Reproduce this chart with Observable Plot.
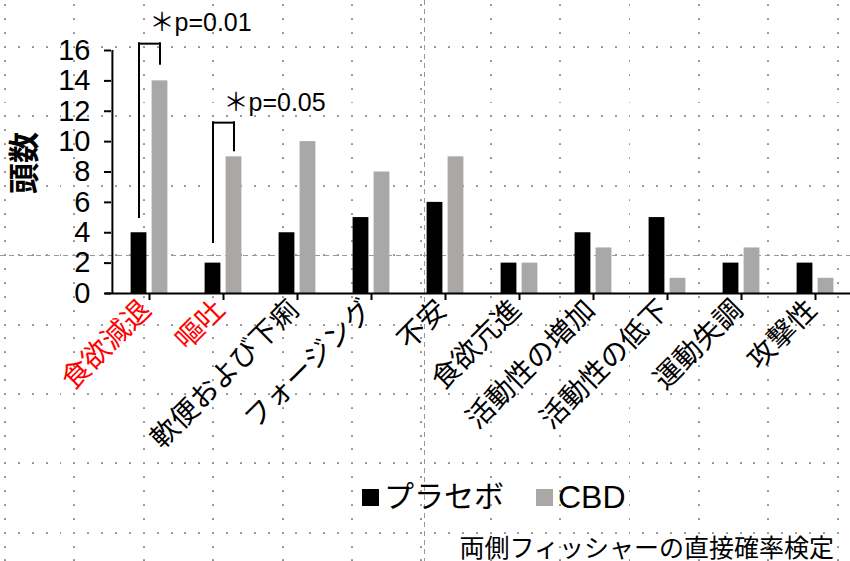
<!DOCTYPE html>
<html><head><meta charset="utf-8">
<script src="https://cdn.jsdelivr.net/npm/d3@7"></script>
<script src="https://cdn.jsdelivr.net/npm/@observablehq/plot@0.6"></script>
<style>
html,body{margin:0;padding:0;}
body{width:850px;height:561px;position:relative;overflow:hidden;background-color:#fff;
  font-family:"Liberation Sans","Noto Sans CJK JP",sans-serif;color:#000;}
#chart{position:absolute;left:0;top:0;}
.hguide{position:absolute;left:0;top:255px;width:850px;height:1px;
  background:repeating-linear-gradient(to right,#9a9a9a 0 5px,transparent 5px 9px);}
.vguide{position:absolute;left:424px;top:0;width:1px;height:561px;
  background:repeating-linear-gradient(to bottom,#9a9a9a 0 5px,transparent 5px 9px);}
#legend{position:absolute;left:362px;top:479px;font-size:30px;line-height:36px;display:flex;align-items:center;white-space:nowrap;}
#legend .sw{display:inline-block;width:17px;height:17px;margin-right:5px;}
#legend .item{display:flex;align-items:center;margin-right:32px;}
#legend .item:last-child{font-size:32px;}
#foot{position:absolute;right:16px;top:534px;font-size:25px;line-height:28px;white-space:nowrap;}
</style></head>
<body>
<div class="hguide"></div><div class="vguide"></div>
<div id="chart"></div>
<div id="legend"></div>
<div id="foot"></div>
<script>
const categories = ["食欲減退","嘔吐","軟便および下痢","フォージング","不安","食欲亢進","活動性の増加","活動性の低下","運動失調","攻撃性"];
const placebo = [4, 2, 4, 5, 6, 2, 4, 5, 2, 2];
const cbd = [14, 9, 10, 8, 9, 2, 3, 1, 3, 1];
const yTicks = [0, 2, 4, 6, 8, 10, 12, 14, 16];
const redCategories = ["食欲減退","嘔吐"];
const seriesNames = ["プラセボ","CBD"];
const seriesColors = ["#000000","#aaa7a7"];
const sigCats = ["食欲減退","嘔吐"];
const sigLabels = ["＊p=0.01","＊p=0.05"];
const sigLeftEnd = [5.0, 3.35];
const sigRightEnd = [15.1, 9.4];
const sigTop = [16.45, 11.25];
const sigLabelY = [17.8, 12.55];
const yLabel = "頭数";
const footnote = "両側フィッシャーの直接確率検定";

// background dot grid (slide grid)
(function(){
  const s = 69.4, st = s/5;
  let c = "";
  for (let j=0;j<5;j++) c += `<circle cx='${1+j*st}' cy='1' r='0.85'/>`;
  for (let j=1;j<5;j++) c += `<circle cx='1' cy='${1+j*st}' r='0.85'/>`;
  const svg = `<svg xmlns='http://www.w3.org/2000/svg' width='${s}' height='${s}' viewBox='0 0 ${s} ${s}'><g fill='#3a3a3a'>${c}</g></svg>`;
  document.body.style.backgroundImage = `url("data:image/svg+xml,${encodeURIComponent(svg)}")`;
  document.body.style.backgroundSize = `${s}px ${s}px`;
  document.body.style.backgroundPosition = `4px 46px`;
})();

const rows = categories.map((c,i)=>({cat:c, placebo:placebo[i], cbd:cbd[i]}));
const sig = sigCats.map((c,i)=>({cat:c, label:sigLabels[i], left:sigLeftEnd[i], right:sigRightEnd[i], top:sigTop[i], ly:sigLabelY[i]}));

const bw = 74.2;
const labelOpts = {x: "cat", text: "cat", frameAnchor: "bottom", rotate: -45, textAnchor: "end", dx: 3, dy: 18, fontSize: 28};
const chart = Plot.plot({
  width: 850, height: 475,
  marginLeft: 111, marginRight: 0, marginTop: 50, marginBottom: 182,
  style: {background: "transparent", fontFamily: "'Liberation Sans','Noto Sans CJK JP',sans-serif", color: "#000"},
  x: {domain: categories, range: [111.4, 853.4], padding: 0},
  y: {domain: [0, 16]},
  marks: [
    Plot.barY(rows, {x: "cat", y: "placebo", fill: seriesColors[0], insetLeft: 18.6, insetRight: 39.6}),
    Plot.barY(rows, {x: "cat", y: "cbd", fill: seriesColors[1], insetLeft: 39.6, insetRight: 18.6}),
    Plot.axisY({ticks: yTicks, tickSize: 7, tickPadding: 14, fontSize: 29, strokeWidth: 2, label: null, tickFormat: d => String(d)}),
    Plot.axisX({tickSize: 7, strokeWidth: 2, label: null, tickFormat: () => ""}),
    Plot.ruleX([categories[0]], {y1: 0, y2: 16, dx: -bw/2, strokeWidth: 2}),
    Plot.ruleY([0], {strokeWidth: 2, insetLeft: -6}),
    Plot.text(rows.filter(d => !redCategories.includes(d.cat)), {...labelOpts, fill: "#000"}),
    Plot.text(rows.filter(d => redCategories.includes(d.cat)), {...labelOpts, fill: "#ff0000"}),
    Plot.ruleX(sig, {x: "cat", y1: "left", y2: "top", dx: -10.5, strokeWidth: 2, strokeLinecap: "square"}),
    Plot.ruleX(sig, {x: "cat", y1: "right", y2: "top", dx: 10.5, strokeWidth: 2, strokeLinecap: "square"}),
    Plot.tickY(sig, {x: "cat", y: "top", insetLeft: 26.6, insetRight: 26.6, strokeWidth: 2}),
    Plot.text(sig, {x: "cat", y: "ly", text: "label", textAnchor: "start", dx: 0, fontSize: 25}),
    Plot.text([yLabel], {text: d => d, frameAnchor: "left", rotate: -90, dx: -86, dy: 22, fontSize: 31, fontWeight: "bold"})
  ]
});
document.getElementById("chart").appendChild(chart);

const legend = document.getElementById("legend");
seriesNames.forEach((n,i) => {
  const it = document.createElement("span"); it.className = "item";
  const sw = document.createElement("span"); sw.className = "sw"; sw.style.background = seriesColors[i];
  it.appendChild(sw); it.appendChild(document.createTextNode(n));
  legend.appendChild(it);
});
document.getElementById("foot").textContent = footnote;
</script>
</body></html>
